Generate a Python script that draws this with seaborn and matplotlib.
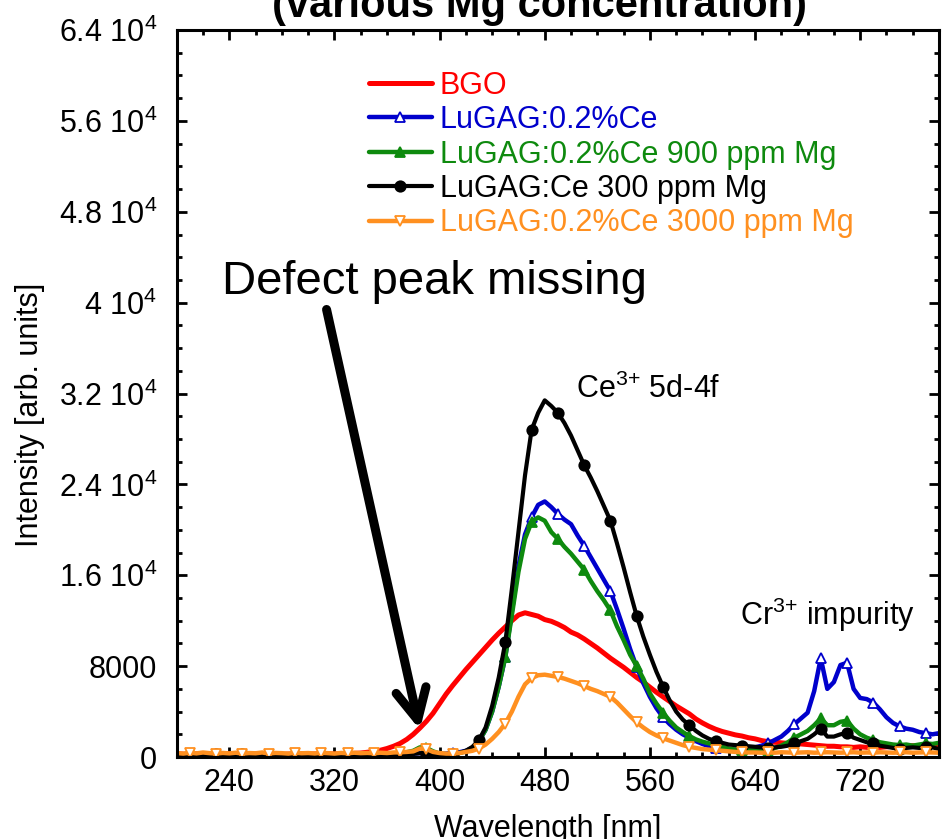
import pandas as pd
import seaborn as sns
import matplotlib.pyplot as plt
from matplotlib.ticker import MultipleLocator, FixedLocator, FixedFormatter

# wavelength grid (nm), 5 nm steps
wavelength = list(range(200, 781, 5))

# intensities (arb. units)
bgo = [300, 250, 200, 280, 220, 260, 200, 240, 300, 220, 260, 230, 280, 210, 250,
       270, 220, 260, 240, 300, 230, 270, 250, 290, 260, 300, 280, 320, 350, 420,
       500, 600, 750, 950, 1200, 1550, 2000, 2550, 3150, 3850, 4700, 5550, 6300, 7000, 7700,
       8350, 9000, 9650, 10300, 10900,
       11450, 12000, 12500, 12700, 12550, 12400, 12100, 11950, 11700, 11400, 11000, 10750,
       10400, 10000, 9600, 9150, 8700, 8300, 7900, 7450,
       7000, 6600, 6150, 5700, 5300, 4900, 4500, 4150, 3800, 3350, 3000, 2700, 2450, 2250,
       2100, 1950, 1850, 1700, 1600, 1450,
       1350, 1300, 1250, 1200, 1150, 1150, 1100, 1050, 1000, 950, 950, 900, 900, 850, 900,
       850, 900, 850, 900, 950,
       900, 950, 1000, 950, 1050, 1100, 1050]

lugag_ce = [200, 150, 250, 180, 220, 160, 240, 200, 180, 230, 170, 210, 190, 240, 160,
            220, 200, 180, 250, 170, 210, 230, 190, 220, 180, 240, 200, 170, 230, 200,
            220, 180, 240, 200, 260, 220, 300, 350, 320, 280, 250, 300, 350, 420, 550,
            800, 1400, 2400, 4000, 6200,
            8800, 12800, 16800, 19600, 21100, 22200, 22500, 22000, 21400, 20900, 20500, 19500,
            18600, 17600, 16600, 15600, 14600, 13000, 11300, 9500,
            7900, 6500, 5300, 4300, 3500, 2900, 2400, 2000, 1700, 1400, 1150, 950, 800, 700,
            650, 650, 700, 750, 850, 1000,
            1200, 1500, 1800, 2300, 2900, 3400, 3900, 5800, 8700, 6000, 6600, 8100, 8300, 6000,
            5200, 5100, 4800, 4200, 3500, 3000,
            2700, 2500, 2400, 2200, 2100, 2000, 2100]

lugag_ce_900mg = [250, 200, 280, 220, 180, 240, 210, 260, 190, 230, 250, 200, 220, 270, 210,
                  240, 190, 230, 260, 200, 240, 210, 250, 230, 200, 260, 220, 240, 210, 250,
                  230, 260, 240, 280, 320, 420, 550, 850, 800, 500, 300, 250, 300, 350, 500,
                  800, 1400, 2400, 4000, 6200,
                  8800, 12500, 16300, 19200, 20700, 21100, 20800, 19800, 19200, 18500, 17900,
                  17200, 16500, 15500, 14600, 13800, 12900, 11500, 10300, 9000,
                  8000, 6900, 5600, 4700, 3900, 3200, 2600, 2200, 1850, 1550, 1350, 1200, 1050,
                  900, 750, 650, 600, 600, 600, 650,
                  650, 800, 1000, 1300, 1700, 2000, 2300, 2800, 3400, 2800, 2800, 3100, 3200,
                  2500, 2000, 1700, 1500, 1300, 1200, 1100,
                  1050, 1100, 1000, 1100, 1200, 1150, 1250]

lugag_ce_300mg = [150, 200, 180, 220, 160, 200, 250, 170, 210, 190, 230, 180, 200, 160, 220,
                  190, 240, 170, 200, 210, 180, 230, 190, 200, 170, 220, 200, 180, 210, 190,
                  200, 220, 190, 230, 210, 250, 280, 330, 300, 260, 230, 250, 280, 350, 550,
                  900, 1500, 2600, 4500, 7000,
                  10100, 14800, 19800, 24800, 28800, 30300, 31400, 30900, 30300, 29400, 28300,
                  27000, 25700, 24600, 23400, 22100, 20800, 18800, 16700, 14500,
                  12400, 10600, 9000, 7500, 6200, 5000, 4000, 3300, 2800, 2300, 1900, 1600, 1400,
                  1250, 1100, 1050, 1000, 950, 900, 850,
                  800, 850, 900, 1000, 1200, 1400, 1600, 2000, 2500, 1800, 1800, 2000, 2100, 1700,
                  1500, 1300, 1200, 1000, 900, 800,
                  750, 800, 850, 800, 900, 850, 700]

lugag_ce_3000mg = [350, 300, 380, 320, 400, 340, 300, 360, 320, 380, 300, 350, 330, 400, 310,
                   360, 340, 300, 380, 330, 350, 310, 370, 340, 300, 360, 330, 380, 340, 360,
                   330, 380, 350, 400, 420, 450, 500, 750, 700, 450, 350, 300, 300, 350, 450,
                   550, 750, 1100, 1600, 2200,
                   2950, 4000, 5300, 6400, 6950, 7200, 7250, 7150, 7050, 6900, 6700, 6500, 6250,
                   6000, 5800, 5550, 5300, 4800, 4200, 3600,
                   3050, 2600, 2200, 1900, 1650, 1450, 1250, 1050, 900, 800, 700, 650, 600, 550,
                   500, 450, 420, 400, 400, 380,
                   400, 380, 420, 400, 380, 400, 420, 380, 400, 420, 400, 380, 400, 420, 380,
                   400, 380, 420, 400, 380,
                   400, 420, 380, 400, 420, 400, 380]

labels = ["BGO", "LuGAG:0.2%Ce", "LuGAG:0.2%Ce 900 ppm Mg",
          "LuGAG:Ce 300 ppm Mg", "LuGAG:0.2%Ce 3000 ppm Mg"]
series = [bgo, lugag_ce, lugag_ce_900mg, lugag_ce_300mg, lugag_ce_3000mg]

y_ticks = [0, 8000, 16000, 24000, 32000, 40000, 48000, 56000, 64000]
y_tick_labels = ["0", "8000", r"1.6 $\mathregular{10^{4}}$", r"2.4 $\mathregular{10^{4}}$",
                 r"3.2 $\mathregular{10^{4}}$", r"4 $\mathregular{10^{4}}$",
                 r"4.8 $\mathregular{10^{4}}$", r"5.6 $\mathregular{10^{4}}$",
                 r"6.4 $\mathregular{10^{4}}$"]

# styling
colors = ["#FF0000", "#0000CC", "#0E8A0E", "#000000", "#FF9020"]
markers = [None, "^", "^", "o", "v"]
face = [None, "white", "#0E8A0E", "#000000", "white"]
widths = [3.6, 3.2, 3.2, 3.0, 3.2]

sns.set_style("ticks")
plt.rcParams['font.family'] = ['Liberation Sans', 'DejaVu Sans']
plt.rcParams['mathtext.fontset'] = 'custom'
plt.rcParams['mathtext.rm'] = 'Liberation Sans'
plt.rcParams['mathtext.it'] = 'Liberation Sans:italic'
for key in ['text.color', 'axes.labelcolor', 'xtick.color', 'ytick.color', 'axes.edgecolor']:
    plt.rcParams[key] = 'black'

df = pd.DataFrame({"Wavelength": wavelength})
for lab, s in zip(labels, series):
    df[lab] = s

fig = plt.figure(figsize=(9.43, 8.39), dpi=100)
ax = fig.add_axes([0.1874, 0.0977, 0.8084, 0.8665])

for lab, c, m, fc, lw in zip(labels, colors, markers, face, widths):
    kw = dict(color=c, linewidth=lw, label=lab)
    if m is not None:
        kw.update(marker=m, markersize=7.5, markerfacecolor=fc, markeredgecolor=c,
                  markeredgewidth=1.3, markevery=(2, 4))
    sns.lineplot(data=df, x="Wavelength", y=lab, ax=ax, **kw)

ax.set_xlim(200, 780)
ax.set_ylim(0, 64000)
ax.xaxis.set_major_locator(MultipleLocator(80))
ax.xaxis.set_minor_locator(MultipleLocator(20))
ax.yaxis.set_major_locator(FixedLocator(y_ticks))
ax.yaxis.set_major_formatter(FixedFormatter(y_tick_labels))
ax.yaxis.set_minor_locator(MultipleLocator(2000))
ax.set_xlabel("")
ax.set_ylabel("")
for sp in ax.spines.values():
    sp.set_linewidth(2.2)
ax.tick_params(which='both', direction='in', top=True, right=True, width=2.0)
ax.tick_params(which='major', length=7)
ax.tick_params(which='minor', length=3.8)
ax.tick_params(axis='x', labelsize=22, pad=8)
ax.tick_params(axis='y', labelsize=22, pad=14)

handles, labs = ax.get_legend_handles_labels()
leg = ax.legend(handles, labs, loc='upper left', bbox_to_anchor=(0.2523, 0.944),
                frameon=False, fontsize=22, handlelength=2.05, handletextpad=0.26,
                labelspacing=0.145, borderpad=0, borderaxespad=0)
for txt, c in zip(leg.get_texts(), colors):
    txt.set_color(c)

# annotations
ax.annotate("", xy=(385, 2400), xytext=(314, 39400),
            arrowprops=dict(arrowstyle="->, head_length=1.1, head_width=0.55",
                            lw=6.5, color="black", mutation_scale=20,
                            shrinkA=0, shrinkB=0))
ax.text(234.5, 40800, "Defect peak missing", fontsize=34, va='baseline', ha='left')
ax.text(503.5, 31650, r"Ce$^{3{+}}$ 5d-4f", fontsize=22, va='baseline', ha='left')
ax.text(628.5, 11600, r"Cr$^{3{+}}$ impurity", fontsize=22, va='baseline', ha='left')

fig.text(540 / 943, 1 - 17 / 839, "(various Mg concentration)", ha='center', va='baseline',
         fontsize=30, fontweight='bold')
fig.text(548 / 943, 2 / 839, "Wavelength [nm]", ha='center', va='baseline', fontsize=22)
fig.text(30 / 943, 1 - 415 / 839, "Intensity [arb. units]", ha='center', va='center',
         rotation=90, fontsize=22)

fig.savefig("out.png", dpi=100)
